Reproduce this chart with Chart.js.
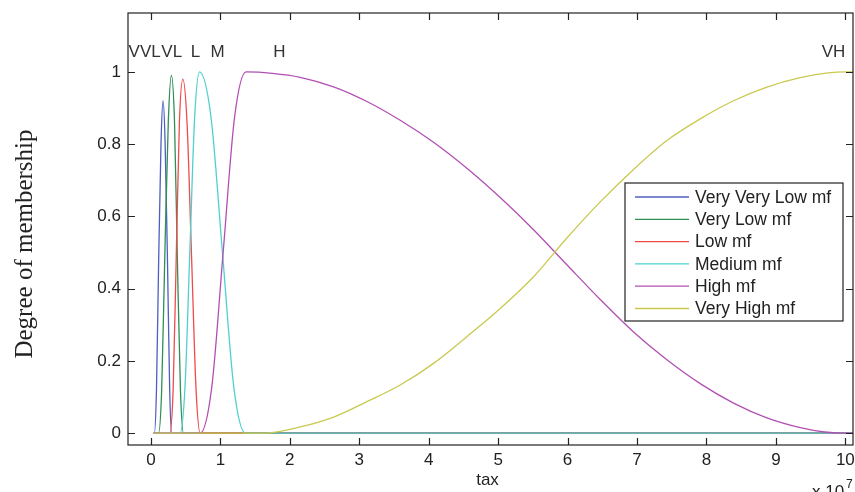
<!DOCTYPE html>
<html>
<head>
<meta charset="utf-8">
<script src="https://cdn.jsdelivr.net/npm/chart.js@4.4.0/dist/chart.umd.min.js"></script>
<style>
  body { margin: 0; background: #fff; }
</style>
</head>
<body>
<canvas id="mfChart" width="855" height="492"></canvas>
<script>
const seriesNames = ['Very Very Low mf', 'Very Low mf', 'Low mf', 'Medium mf', 'High mf', 'Very High mf'];
const seriesColors = ['#4f5fbf', '#2f8f55', '#f24a4a', '#4fd0d0', '#b24fb2', '#c9c94f'];

// tax in units of 1e7, membership degree
const vvlX = [0.04, 0.05, 0.08, 0.11, 0.145, 0.175, 0.205, 0.24, 0.27, 0.30, 10.11];
const vvlY = [0, 0, 0.12, 0.46, 0.80, 0.92, 0.80, 0.46, 0.12, 0, 0];
const vlX = [0.04, 0.11, 0.155, 0.20, 0.25, 0.295, 0.34, 0.38, 0.425, 0.47, 10.11];
const vlY = [0, 0, 0.12, 0.49, 0.86, 0.99, 0.86, 0.49, 0.12, 0, 0];
const lowX = [0.04, 0.27, 0.32, 0.365, 0.41, 0.46, 0.52, 0.585, 0.65, 0.71, 10.11];
const lowY = [0, 0, 0.12, 0.49, 0.86, 0.98, 0.86, 0.49, 0.12, 0, 0];
const medX = [0.04, 0.42, 0.49, 0.56, 0.63, 0.70, 0.865, 1.03, 1.195, 1.36, 10.11];
const medY = [0, 0, 0.125, 0.5, 0.875, 1, 0.875, 0.5, 0.125, 0, 0];
const highX = [0.04, 0.71, 0.875, 1.04, 1.205, 1.37, 1.75, 2.15, 2.64, 3.11, 3.59, 4.07, 4.55, 5.03, 5.51, 5.99, 6.47, 6.95, 7.43, 7.91, 8.39, 8.87, 9.35, 9.7, 9.95, 10.11];
const highY = [0, 0, 0.125, 0.5, 0.875, 1, 0.996, 0.985, 0.958, 0.918, 0.866, 0.805, 0.733, 0.652, 0.563, 0.466, 0.37, 0.28, 0.203, 0.137, 0.083, 0.042, 0.015, 0.003, 0, 0];
const vhighX = [0.04, 1.63, 2.15, 2.64, 3.11, 3.59, 4.07, 4.55, 5.03, 5.51, 5.99, 6.47, 6.95, 7.43, 7.91, 8.39, 8.87, 9.35, 9.75, 10.0, 10.11];
const vhighY = [0, 0, 0.017, 0.045, 0.087, 0.133, 0.193, 0.267, 0.345, 0.433, 0.54, 0.64, 0.73, 0.81, 0.87, 0.92, 0.958, 0.984, 0.997, 1, 1];

const xTicks = [0, 1, 2, 3, 4, 5, 6, 7, 8, 9, 10];
const xTickLabels = ['0', '1', '2', '3', '4', '5', '6', '7', '8', '9', '10'];
const yTicks = [0, 0.2, 0.4, 0.6, 0.8, 1];
const yTickLabels = ['0', '0.2', '0.4', '0.6', '0.8', '1'];

const mfTags = ['VVL', 'VL', 'L', 'M', 'H', 'VH'];
const mfTagX = [-0.09, 0.30, 0.64, 0.96, 1.85, 9.83];
const mfTagY = 1.053;

const allX = [vvlX, vlX, lowX, medX, highX, vhighX];
const allY = [vvlY, vlY, lowY, medY, highY, vhighY];

const datasets = seriesNames.map((name, i) => ({
  label: name,
  data: allX[i].map((x, j) => ({ x: x, y: allY[i][j] })),
  borderColor: seriesColors[i],
  borderWidth: 1.3,
  pointRadius: 0,
  cubicInterpolationMode: 'monotone',
  order: seriesNames.length - 1 - i   // later series on top, like matlab
}));

const TICK_LEN = 7;

const frame = {
  id: 'frame',
  afterDatasetsDraw(chart) {
    const ctx = chart.ctx;
    const ca = chart.chartArea;
    const xs = chart.scales.x, ys = chart.scales.y;
    ctx.save();

    // box + inward ticks on all sides
    ctx.strokeStyle = '#222';
    ctx.lineWidth = 1.2;
    ctx.strokeRect(ca.left, ca.top, ca.right - ca.left, ca.bottom - ca.top);
    ctx.beginPath();
    xTicks.forEach(v => {
      const px = Math.round(xs.getPixelForValue(v)) + 0.5;
      ctx.moveTo(px, ca.bottom); ctx.lineTo(px, ca.bottom - TICK_LEN);
      ctx.moveTo(px, ca.top); ctx.lineTo(px, ca.top + TICK_LEN);
    });
    yTicks.forEach(v => {
      const py = Math.round(ys.getPixelForValue(v)) + 0.5;
      ctx.moveTo(ca.left, py); ctx.lineTo(ca.left + TICK_LEN, py);
      ctx.moveTo(ca.right, py); ctx.lineTo(ca.right - TICK_LEN, py);
    });
    ctx.stroke();

    // mf names above the peaks
    ctx.fillStyle = '#333';
    ctx.font = '17px "Liberation Sans", Arial, sans-serif';
    ctx.textAlign = 'center';
    ctx.textBaseline = 'middle';
    mfTags.forEach((t, i) => {
      ctx.fillText(t, xs.getPixelForValue(mfTagX[i]), ys.getPixelForValue(mfTagY));
    });

    // legend
    const bw = 218, bh = 138;
    const bx = ca.right - 10 - bw, by = ca.top + 170;
    ctx.fillStyle = '#fff';
    ctx.fillRect(bx, by, bw, bh);
    ctx.strokeStyle = '#222';
    ctx.lineWidth = 1.2;
    ctx.strokeRect(bx, by, bw, bh);
    ctx.font = '17.5px "Liberation Sans", Arial, sans-serif';
    ctx.textAlign = 'left';
    chart.data.datasets.forEach((ds, i) => {
      const ry = by + 14 + i * 22.3;
      ctx.strokeStyle = ds.borderColor;
      ctx.lineWidth = 1.3;
      ctx.beginPath();
      ctx.moveTo(bx + 10, ry); ctx.lineTo(bx + 64, ry);
      ctx.stroke();
      ctx.fillStyle = '#222';
      ctx.fillText(ds.label, bx + 70, ry + 1);
    });

    // axis titles
    ctx.fillStyle = '#222';
    ctx.font = '17px "Liberation Sans", Arial, sans-serif';
    ctx.textAlign = 'center';
    ctx.fillText('tax', (ca.left + ca.right) / 2 - 3, 480);
    ctx.textAlign = 'left';
    ctx.textBaseline = 'top';
    ctx.fillText('x 10', 812, 484);
    ctx.font = '12px "Liberation Sans", Arial, sans-serif';
    ctx.fillText('7', 846, 479);

    ctx.save();
    ctx.translate(25, 244);
    ctx.rotate(-Math.PI / 2);
    ctx.font = '25px "Liberation Serif", "Times New Roman", serif';
    ctx.textAlign = 'center';
    ctx.textBaseline = 'middle';
    ctx.fillText('Degree of membership', 0, 0);
    ctx.restore();

    ctx.restore();
  }
};

new Chart(document.getElementById('mfChart').getContext('2d'), {
  type: 'line',
  data: { datasets: datasets },
  options: {
    responsive: false,
    animation: false,
    layout: { padding: { top: 13, right: 2, left: 0, bottom: 0 } },
    plugins: { legend: { display: false }, tooltip: { enabled: false } },
    scales: {
      x: {
        type: 'linear',
        min: -0.33,
        max: 10.11,
        grid: { display: false, drawTicks: false },
        border: { display: false },
        ticks: {
          color: '#222',
          font: { family: '"Liberation Sans", Arial, sans-serif', size: 17 },
          padding: 5,
          maxRotation: 0,
          autoSkip: false,
          callback: (v, i) => xTickLabels[i]
        },
        afterBuildTicks: s => { s.ticks = xTicks.map(v => ({ value: v })); },
        afterFit: s => { s.height = 47; s.paddingLeft = 0; s.paddingRight = 0; }
      },
      y: {
        type: 'linear',
        min: -0.033,
        max: 1.163,
        grid: { display: false, drawTicks: false },
        border: { display: false },
        ticks: {
          color: '#222',
          font: { family: '"Liberation Sans", Arial, sans-serif', size: 17 },
          padding: 7,
          autoSkip: false,
          callback: (v, i) => yTickLabels[i]
        },
        afterBuildTicks: s => { s.ticks = yTicks.map(v => ({ value: v })); },
        afterFit: s => { s.width = 128; s.paddingTop = 0; s.paddingBottom = 0; }
      }
    }
  },
  plugins: [frame]
});
</script>
</body>
</html>
